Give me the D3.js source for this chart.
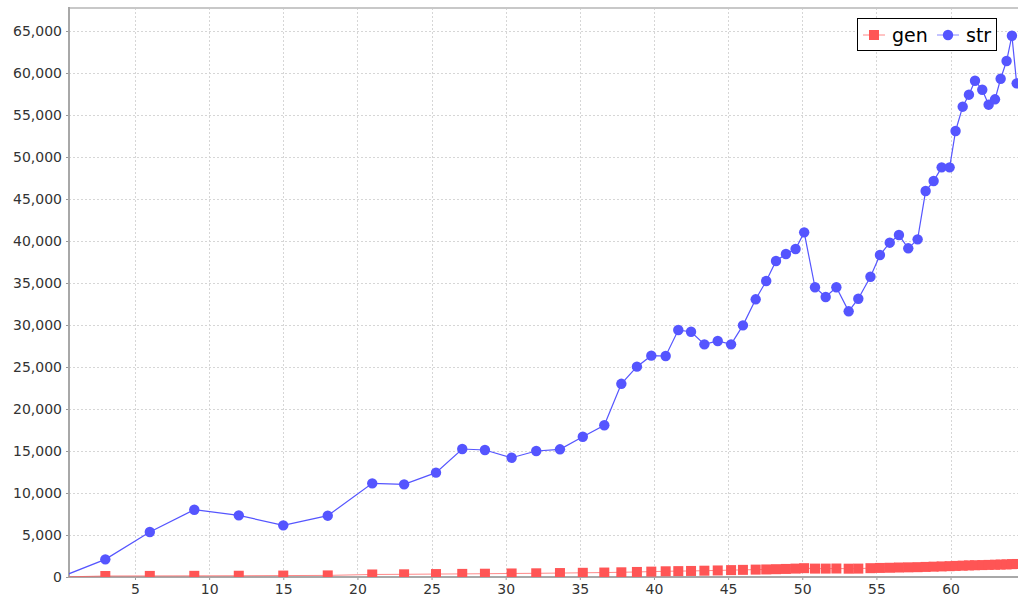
<!DOCTYPE html>
<html>
<head>
<meta charset="utf-8">
<script src="https://cdn.jsdelivr.net/npm/d3@7"></script>
<style>
  body { margin: 0; background: #fff; }
  svg text { font-family: "DejaVu Sans", sans-serif; }
</style>
</head>
<body>
<svg class="chart_svg" width="1018" height="605"></svg>
<script>
/* x positions shared by both series */
let xs = [0, 3, 6, 9, 12, 15, 18, 21, 23.15, 25.3, 27.07, 28.6, 30.4, 32.06, 33.66,
    35.2, 36.65, 37.8, 38.85, 39.82, 40.79, 41.64, 42.5, 43.4, 44.3, 45.2, 46.0,
    46.86, 47.57, 48.23, 48.9, 49.55, 50.13, 50.86, 51.58, 52.3, 53.13, 53.78,
    54.6, 55.24, 55.9, 56.52, 57.15, 57.78, 58.32, 58.86, 59.4, 59.94, 60.34,
    60.82, 61.24, 61.65, 62.14, 62.57, 63.0, 63.38, 63.78, 64.14, 64.46];

let str_values = [0, 2100, 5360, 8010, 7340, 6150, 7300, 11150, 11030, 12420, 15240,
    15120, 14200, 15000, 15200, 16700, 18060, 23000, 25040, 26350, 26310, 29400,
    29200, 27700, 28100, 27700, 29960, 33060, 35240, 37620, 38450, 39050, 41030,
    34490, 33330, 34490, 31630, 33130, 35750, 38330, 39800, 40710, 39130, 40200,
    45950, 47140, 48770, 48770, 53100, 55990, 57420, 59080, 58010, 56230, 56870,
    59320, 61430, 64440, 58770];

let gen_values = [0, 120, 130, 140, 150, 170, 190, 300, 320, 350, 370, 390, 420, 440,
    470, 500, 530, 560, 600, 640, 680, 700, 720, 750, 780, 820, 850, 880, 900, 930,
    960, 1000, 1050, 1000, 1000, 1010, 990, 1000, 1050, 1080, 1100, 1130, 1150,
    1170, 1200, 1230, 1260, 1290, 1320, 1350, 1380, 1400, 1420, 1440, 1460, 1480,
    1500, 1530, 1550];

let x_ticks = [5, 10, 15, 20, 25, 30, 35, 40, 45, 50, 55, 60];
let y_ticks = [0, 5000, 10000, 15000, 20000, 25000, 30000, 35000, 40000, 45000,
    50000, 55000, 60000, 65000];

let series_names = ["gen", "str"];
let series_colors = ["#ff5555", "#5555ff"];

let svg = d3.select("svg.chart_svg");

let plot_left = 69, plot_right = 1018, plot_top = 8, plot_bottom = 577;

let x = d3.scaleLinear().domain([0.55, 64.55]).range([plot_left, plot_right]);
let y = d3.scaleLinear().domain([0, 67740]).range([plot_bottom, plot_top]);

svg.append("defs").append("clipPath").attr("id", "plot_clip")
    .append("rect")
    .attr("x", plot_left).attr("y", plot_top)
    .attr("width", plot_right - plot_left).attr("height", plot_bottom - plot_top);

/* grid */
let grid = svg.append("g");
grid.selectAll("line.vgrid").data(x_ticks).enter().append("line")
    .attr("x1", d => Math.round(x(d)) + 0.5).attr("x2", d => Math.round(x(d)) + 0.5)
    .attr("y1", plot_top).attr("y2", plot_bottom)
    .attr("stroke", "#d6d6d6").attr("stroke-dasharray", "2,2");
grid.selectAll("line.hgrid").data(y_ticks.filter(d => d > 0)).enter().append("line")
    .attr("y1", d => Math.round(y(d)) + 0.5).attr("y2", d => Math.round(y(d)) + 0.5)
    .attr("x1", plot_left).attr("x2", plot_right)
    .attr("stroke", "#d6d6d6").attr("stroke-dasharray", "2,2");

/* top outline */
svg.append("line").attr("x1", plot_left).attr("x2", plot_right)
    .attr("y1", plot_top).attr("y2", plot_top)
    .attr("stroke", "#c8c8c8").attr("stroke-width", 2);

/* axes */
let y_axis = svg.append("g").attr("transform", "translate(" + plot_left + ",0)")
    .call(d3.axisLeft(y).tickValues(y_ticks).tickSize(3).tickPadding(4)
        .tickFormat(d3.format(",")));
let x_axis = svg.append("g").attr("transform", "translate(0," + plot_bottom + ")")
    .call(d3.axisBottom(x).tickValues(x_ticks).tickSize(3).tickPadding(4));

[x_axis, y_axis].forEach(function (ax) {
    ax.select(".domain").remove();
    ax.selectAll(".tick line").attr("stroke", "#999");
    ax.selectAll(".tick text").attr("fill", "#333").style("font-size", "14px")
        .style("font-family", "DejaVu Sans, sans-serif");
});

svg.append("line").attr("x1", plot_left).attr("x2", plot_left)
    .attr("y1", plot_top - 1).attr("y2", plot_bottom + 1)
    .attr("stroke", "#a8a8a8").attr("stroke-width", 2);
svg.append("line").attr("x1", plot_left).attr("x2", plot_right)
    .attr("y1", plot_bottom).attr("y2", plot_bottom)
    .attr("stroke", "#a8a8a8").attr("stroke-width", 2);

/* series */
let plot = svg.append("g").attr("clip-path", "url(#plot_clip)");
let line_gen = d3.line().x((d, i) => x(xs[i])).y(d => y(d));

let gen_g = plot.append("g");
gen_g.append("path").datum(gen_values)
    .attr("d", line_gen).attr("fill", "none")
    .attr("stroke", series_colors[0]).attr("stroke-width", 1).attr("stroke-opacity", 0.7);
gen_g.selectAll("rect").data(gen_values).enter().append("rect")
    .attr("x", (d, i) => x(xs[i]) - 5).attr("y", d => y(d) - 5)
    .attr("width", 10).attr("height", 10)
    .attr("fill", series_colors[0]);

let str_g = plot.append("g");
str_g.append("path").datum(str_values)
    .attr("d", line_gen).attr("fill", "none")
    .attr("stroke", series_colors[1]).attr("stroke-width", 1.2);
str_g.selectAll("circle").data(str_values).enter().append("circle")
    .attr("cx", (d, i) => x(xs[i])).attr("cy", d => y(d)).attr("r", 5.2)
    .attr("fill", series_colors[1]);

/* legend */
let legend = svg.append("g").attr("transform", "translate(857,18)");
legend.append("rect").attr("x", 0.5).attr("y", 0.5).attr("width", 139).attr("height", 32)
    .attr("fill", "#fff").attr("stroke", "#000");

let item_x = [6, 80];
series_names.forEach(function (name, i) {
    let g = legend.append("g").attr("transform", "translate(" + item_x[i] + ",17)");
    g.append("line").attr("x1", 0).attr("x2", 22).attr("y1", 0).attr("y2", 0)
        .attr("stroke", series_colors[i]).attr("stroke-opacity", 0.7);
    if (i === 0) {
        g.append("rect").attr("x", 6).attr("y", -5).attr("width", 10).attr("height", 10)
            .attr("fill", series_colors[i]);
    } else {
        g.append("circle").attr("cx", 11).attr("cy", 0).attr("r", 5.2)
            .attr("fill", series_colors[i]);
    }
    g.append("text").attr("x", 29).attr("y", 7).text(name)
        .style("font-size", "19px").attr("fill", "#000");
});
</script>
</body>
</html>
